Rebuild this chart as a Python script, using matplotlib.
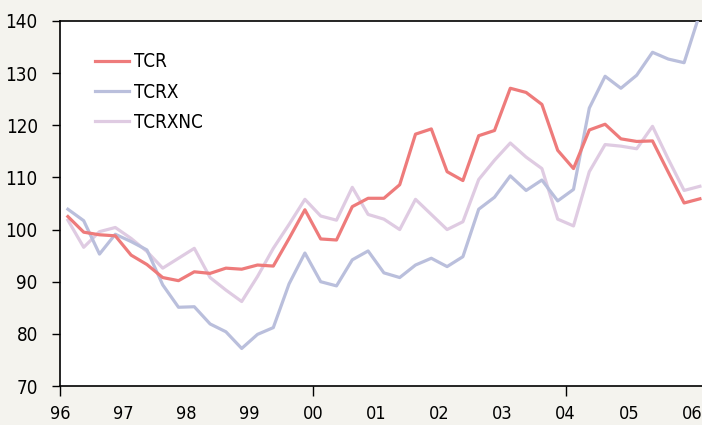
import numpy as np
import matplotlib
matplotlib.use("Agg")
import matplotlib.pyplot as plt
from matplotlib.ticker import FixedLocator, FixedFormatter

# quarterly observations, 1996Q1 .. 2006Q1
quarters = np.arange(41)

tcr = [102.5, 99.5, 99.0, 98.8, 95.1, 93.3, 90.8, 90.2, 91.9, 91.6,
       92.6, 92.4, 93.2, 93.0, 98.3, 103.8, 98.2, 98.0, 104.4, 106.0,
       106.0, 108.6, 118.3, 119.3, 111.1, 109.4, 118.0, 119.0, 127.1, 126.3,
       124.0, 115.2, 111.7, 119.1, 120.2, 117.4, 116.9, 117.0, 111.0, 105.1,
       105.9]

tcrx = [103.9, 101.7, 95.3, 99.1, 97.7, 96.1, 89.4, 85.1, 85.2, 81.9,
        80.4, 77.2, 79.9, 81.2, 89.6, 95.5, 90.0, 89.2, 94.2, 95.9,
        91.7, 90.8, 93.2, 94.5, 92.9, 94.8, 103.9, 106.2, 110.3, 107.5,
        109.5, 105.5, 107.7, 123.3, 129.4, 127.1, 129.6, 134.0, 132.7, 132.0,
        141.5]

tcrxnc = [101.8, 96.6, 99.6, 100.4, 98.3, 95.8, 92.6, 94.5, 96.4, 90.8,
          88.4, 86.2, 91.0, 96.4, 101.0, 105.8, 102.6, 101.8, 108.1, 102.9,
          102.0, 100.0, 105.8, 102.9, 100.0, 101.5, 109.6, 113.3, 116.6, 113.9,
          111.7, 102.0, 100.7, 111.1, 116.3, 116.0, 115.5, 119.8, 113.5, 107.5,
          108.3]

years = list(range(1996, 2007))
year_labels = ["96", "97", "98", "99", "00", "01", "02", "03", "04", "05", "06"]
major_years = [1996, 2000, 2004]

plt.rcParams['font.family'] = ['DejaVu Sans']
plt.rcParams['font.stretch'] = 'condensed'

bg = "#f4f3ee"
fig = plt.figure(figsize=(7.02, 4.25), dpi=100, facecolor=bg)
ax = fig.add_axes([60 / 702, 1 - 386 / 425, 642 / 702, 365 / 425])
ax.set_facecolor("white")

t = 1996 + (quarters + 0.5) / 4
ax.plot(t, tcr, color="#ee7b7b", lw=2.3, label="TCR", zorder=4)
ax.plot(t, tcrx, color="#babfdc", lw=2.3, label="TCRX", zorder=3)
ax.plot(t, tcrxnc, color="#dfcbe2", lw=2.3, label="TCRXNC", zorder=2)

ax.set_xlim(1996, 1996 + 642 / 63.2)
ax.set_ylim(70, 140)

ax.set_yticks(np.arange(70, 141, 10))
ax.tick_params(axis="y", direction="out", length=6, width=1, pad=10,
               labelsize=13.5, colors="black")

# tick marks only every 4 years, labels every year
ax.xaxis.remove_overlapping_locs = False
ax.xaxis.set_major_locator(FixedLocator(major_years))
ax.xaxis.set_major_formatter(FixedFormatter(["", "", ""]))
ax.xaxis.set_minor_locator(FixedLocator(years))
ax.xaxis.set_minor_formatter(FixedFormatter(year_labels))
ax.tick_params(axis="x", which="major", direction="out", length=7, width=1)
ax.tick_params(axis="x", which="minor", length=0, pad=14, labelsize=13)

for side in ["left", "bottom", "top"]:
    ax.spines[side].set_color("black")
    ax.spines[side].set_linewidth(1.2)
ax.spines["right"].set_visible(False)

ax.legend(loc="upper left", bbox_to_anchor=(0.028, 0.96), frameon=False,
          fontsize=13.5, handlelength=1.8, handletextpad=0.3, labelspacing=0.6)

fig.savefig("out.png", dpi=100, facecolor=bg)
